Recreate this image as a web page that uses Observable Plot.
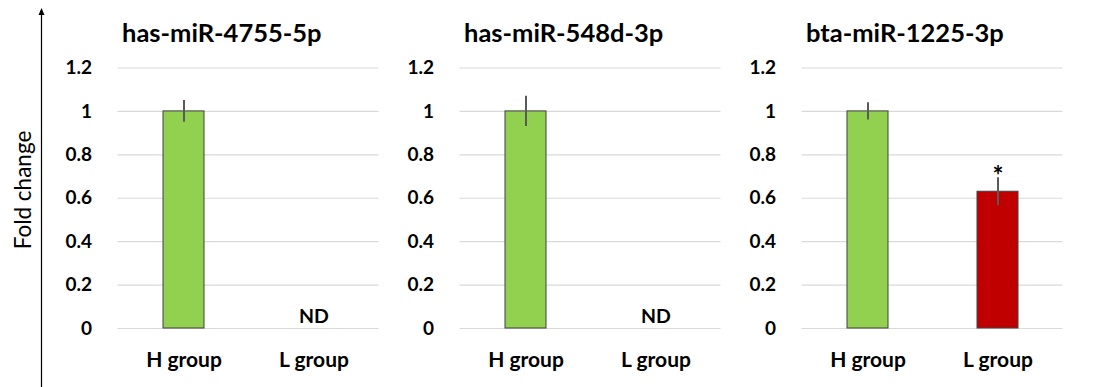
<!DOCTYPE html>
<html>
<head>
<meta charset="utf-8">
<script src="https://cdn.jsdelivr.net/npm/d3@7"></script>
<script src="https://cdn.jsdelivr.net/npm/@observablehq/plot@0.6"></script>
<style>
  html, body { margin: 0; padding: 0; background: #fff; }
  #wrap { position: relative; width: 1105px; height: 387px; overflow: hidden; font-family: Lato, "Open Sans", sans-serif; }
  .panel { position: absolute; top: 0; }
  #ylab { position: absolute; left: 22px; top: 190px; transform: translate(-50%, -50%) rotate(-90deg); font-size: 22.5px; white-space: nowrap; color: #000; font-family: Lato, "Open Sans", sans-serif; }
  #arrow { position: absolute; left: 0; top: 0; }
</style>
</head>
<body>
<div id="wrap">
  <svg id="arrow" width="60" height="387">
    <line x1="41.5" y1="14" x2="41.5" y2="387" stroke="#000" stroke-width="1.2"></line>
    <path d="M38.5,15 L41.5,8 L44.5,15 Z" fill="#000"></path>
  </svg>
  <div id="ylab">Fold change</div>
</div>
<script>
const panelTitles = ["has-miR-4755-5p", "has-miR-548d-3p", "bta-miR-1225-3p"];
const groups = ["H group", "L group"];
const hValues = [1, 1, 1];
const hErrors = [0.05, 0.07, 0.04];
const lValues = [null, null, 0.63];
const lErrors = [null, null, 0.065];
const lNotes = ["ND", "ND", "*"];
const yTicks = [0, 0.2, 0.4, 0.6, 0.8, 1, 1.2];
const yTickLabels = ["0", "0.2", "0.4", "0.6", "0.8", "1", "1.2"];
const barColors = {"H group": "#92d050", "L group": "#c00000"};

const wrap = document.getElementById("wrap");
const font = "Lato, 'Open Sans', sans-serif";

panelTitles.forEach((title, i) => {
  const rows = [
    {group: groups[0], value: hValues[i], err: hErrors[i]},
    {group: groups[1], value: lValues[i], err: lErrors[i]}
  ];
  const bars = rows.filter(d => d.value != null);
  const isStar = lNotes[i] === "*";
  const notes = [{group: groups[1], value: lValues[i] != null ? lValues[i] + lErrors[i] : 0, note: lNotes[i]}];

  const chart = Plot.plot({
    width: 342,
    height: 387,
    marginLeft: 75.5,
    marginRight: 5.5,
    marginTop: 67.5,
    marginBottom: 59,
    style: {fontFamily: font, background: "transparent"},
    x: {domain: groups, paddingInner: 0.686, paddingOuter: 0.343, label: null},
    y: {domain: [0, 1.2], label: null},
    marks: [
      Plot.gridY(yTicks, {stroke: "#d9d9d9", strokeOpacity: 1, strokeWidth: 1.2}),
      Plot.axisY(yTicks, {tickSize: 0, tickPadding: 26, fontSize: 19, fontWeight: "bold", fill: "#000", tickFormat: (d) => yTickLabels[yTicks.indexOf(d)], label: null}),
      Plot.axisX({tickSize: 0, tickPadding: 24, fontSize: 21, fontWeight: "bold", fill: "#000", label: null}),
      Plot.barY(bars, {x: "group", y: "value", fill: (d) => barColors[d.group], stroke: "#404040", strokeWidth: 1}),
      Plot.ruleX(bars, {x: "group", y1: (d) => d.value - d.err, y2: (d) => d.value + d.err, stroke: "#5a5a5a", strokeWidth: 2}),
      Plot.text(notes, {x: "group", y: "value", text: "note", dy: isStar ? -1 : -6, fontSize: isStar ? 26 : 19.5, fontWeight: "bold", fill: "#000", lineAnchor: isStar ? "middle" : "bottom"}),
      Plot.text([title], {frameAnchor: "top-left", dx: 4, dy: -34, text: (d) => d, fontSize: 25.5, fontWeight: "bold", fill: "#000", textAnchor: "start", lineAnchor: "middle"})
    ]
  });
  chart.classList.add("panel");
  chart.style.left = (42 + i * 342) + "px";
  chart.style.position = "absolute";
  chart.style.top = "0px";
  chart.style.overflow = "visible";
  wrap.appendChild(chart);
});
</script>
</body>
</html>
